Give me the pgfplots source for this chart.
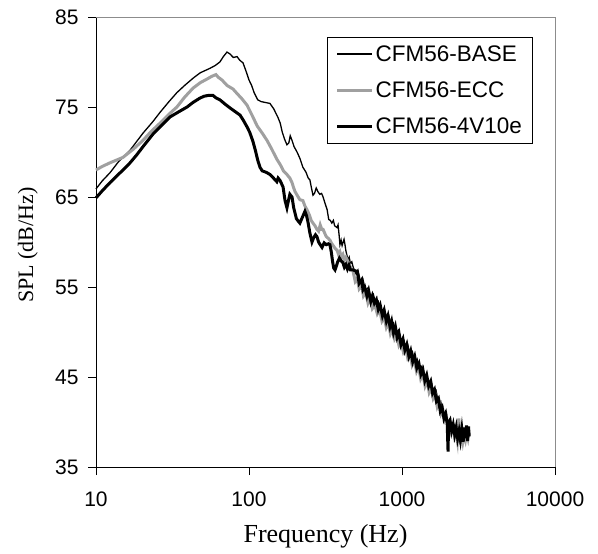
\documentclass[border=0pt]{standalone}
\usepackage{pgfplots}
\pgfplotsset{compat=1.18}
\usepackage{fontspec}
\setmainfont{Liberation Sans}
\newfontfamily\timesf{Liberation Serif}
\definecolor{ecc}{RGB}{160,160,160}
\definecolor{frame}{RGB}{140,140,140}
\begin{document}
\begin{tikzpicture}
\begin{axis}[
  xmode=log, width=459pt, height=450pt, scale only axis,
  xmin=10, xmax=10000, ymin=35, ymax=85,
  xtick={10,100,1000,10000}, xticklabels={10,100,1000,10000},
  ytick={35,45,55,65,75,85}, yticklabels={35,45,55,65,75,85},
  xminorticks=false, yminorticks=false,
  axis x line*=bottom, axis y line*=left,
  axis line style={-, black, line width=0.9pt},
  tick align=outside, major tick length=8pt,
  tick style={black, line width=0.9pt},
  ticklabel style={font=\fontsize{21}{25}\selectfont},
  xticklabel style={yshift=-13pt},
  yticklabel style={xshift=-6pt},
  clip=false,
  xlabel={Frequency (Hz)}, ylabel={SPL (dB/Hz)},
  xlabel style={font=\timesf\fontsize{26}{30}\selectfont, at={([yshift=-75pt]axis description cs:0.5,0)}, anchor=base},
  ylabel style={font=\timesf\fontsize{22}{26}\selectfont, at={([xshift=-63pt,yshift=-3pt]axis description cs:0,0.5)}, anchor=base, rotate=0},
  legend style={at={(0.952,0.9556)}, anchor=north east, draw=black, line width=0.9pt,
    font=\fontsize{22.5}{27}\selectfont, inner xsep=8.5pt, inner ysep=6pt, row sep=15pt},
  legend cell align=left,
  legend image code/.code={\draw[#1] (0pt,0pt) -- (35pt,0pt);},
]
\addplot[black, line width=1.3pt] coordinates {
(10,65.9)(11,66.8)(12.35,67.7)(14,68.9)(16.7,70.2)(20.3,72.1)(23.6,73.4)(26.2,74.4)(30,75.6)(33.8,76.6)(38,77.4)(43.1,78.2)(48,78.8)(55.6,79.3)(60,79.6)(64.5,80.0)(68,80.6)(71.8,81.1)(75,80.9)(79,80.5)(83.5,80.6)(87,80.2)(91.4,79.9)(96,78.9)(100,78.0)(104,77.4)(108,76.6)(114,75.8)(120,75.6)(128,75.5)(137,75.4)(145,74.8)(155,73.8)(160,73.2)(165,72.2)(171,71.4)(177,70.8)(182,71.0)(186,71.8)(191,71.3)(197,70.6)(206,70.0)(215,69.3)(225,68.3)(235,67.8)(244,67.1)(250,66.9)(256,66.0)(262,65.2)(268,65.4)(275,66.0)(282,65.6)(290,65.3)(298,65.4)(305,65.0)(314,64.3)(324,63.6)(332,62.5)(340,62.4)(348,62.1)(356,62.4)(363,61.8)(370,61.7)(376,61.6)(382,61.9)(388,60.8)(393,59.7)(400,60.2)(406,59.6)(411,59.9)(418,60.3)(424,59.7)(430,59.0)(437,58.5)(444,58.0)(452,58.3)(460,57.6)(470,57.8)
(478,57.3)(495,56.5)(515,56.9)(535,55.6)(555,55.9)(575,54.7)(600,54.9)(625,53.8)(650,54.2)(675,53.0)(700,53.4)(730,52.2)(760,52.6)(790,51.4)(820,51.8)(850,50.6)(880,51.0)(910,49.8)(945,50.2)(980,49.0)(1015,49.4)(1050,48.2)(1090,48.6)(1130,47.4)(1170,47.8)(1210,46.6)(1255,47.0)(1300,45.7)(1350,46.2)(1400,44.9)(1450,45.3)(1500,44.1)(1555,44.5)(1610,43.2)(1670,43.5)(1730,42.1)(1790,42.3)(1855,40.8)(1920,41.2)(1990,40.0)(2060,40.3)(2130,39.1)(2200,39.6)(2280,38.5)(2360,39.2)(2440,38.2)(2520,39.1)(2600,38.3)(2680,39.3)(2740,38.5)
};
\addlegendentry{CFM56-BASE}
\addplot[ecc, line width=3pt] coordinates {
(10,68.0)(11,68.4)(12.35,68.8)(15,69.4)(17.5,70.3)(20.3,71.3)(23,72.3)(26.2,73.2)(30,74.2)(33.8,75.0)(38,76.1)(43.1,77.1)(48,77.7)(53.1,78.1)(57,78.4)(60.8,78.6)(63,78.3)(66.6,78.0)(71.8,77.4)(78.6,77.0)(83.5,76.5)(90,75.9)(97.1,75.2)(106,73.9)(113,72.9)(122,72.1)(131,71.3)(141,70.3)(152,69.2)(160,68.6)(168,67.9)(177,67.5)(185,67.1)(191,66.6)(196,66.0)(200,65.6)(208,65.1)(215,64.7)(225,64.6)(232,64.0)(239,63.6)(248,63.0)(255,62.4)(262,62.1)(270,61.8)(278,61.4)(285,61.2)(292,61.9)(299,61.4)(305,61.4)(312,61.0)(320,60.6)(330,60.4)(338,60.2)(345,59.9)(355,59.6)(365,59.3)(376,59.1)(385,58.6)(393,58.9)(402,58.3)(411,58.6)(420,58.0)(430,58.3)(444,57.8)(460,57.2)
(478,56.8)(495,55.6)(510,55.9)(525,54.8)(545,55.2)(560,54.0)(580,54.4)(600,53.2)(620,53.7)(640,52.6)(665,53.0)(690,52.0)(715,52.4)(740,51.2)(765,51.6)(790,50.5)(815,51.0)(840,49.8)(865,50.3)(895,49.2)(925,49.6)(955,48.5)(985,48.9)(1020,47.8)(1055,48.3)(1090,47.1)(1130,47.5)(1165,46.3)(1205,46.8)(1245,45.6)(1285,46.1)(1325,44.8)(1370,45.3)(1415,44.0)(1460,44.6)(1505,43.3)(1550,43.8)(1600,42.6)(1650,43.0)(1700,41.7)(1750,42.2)(1800,40.9)(1850,41.3)(1900,40.2)(1950,40.6)(2000,39.5)(2050,39.9)(2100,38.9)(2150,39.4)(2200,38.4)(2250,38.9)(2300,37.9)(2350,40.4)(2400,38.3)(2450,38.8)(2500,37.8)(2550,38.6)(2600,38.0)(2650,38.8)(2700,38.2)(2740,38.9)
};
\addlegendentry{CFM56-ECC}
\addplot[black, line width=3pt] coordinates {
(10,64.9)(11,65.7)(12.35,66.6)(15,68.0)(16.7,68.8)(18.5,69.7)(20.3,70.6)(23.6,72.0)(27,73.0)(30.5,73.9)(35,74.5)(39.4,75.0)(43,75.5)(47.9,76.0)(51,76.2)(54.8,76.3)(58,76.3)(61,76.0)(64.5,75.8)(70,75.3)(75.1,74.9)(81,74.5)(87.4,74.1)(92,73.5)(97,72.8)(101,72.2)(106,71.2)(110,70.2)(114,69.1)(118,68.3)(122,67.9)(127,67.8)(131,67.7)(137,67.5)(143,67.2)(148,66.9)(152,66.7)(155,67.1)(160,66.8)(167,66.1)(172,64.6)(177,63.8)(181,64.6)(185,65.3)(191,65.0)(196,63.8)(200,63.2)(204,62.6)(208,62.4)(215,62.1)(224,62.8)(232,63.4)(238,62.9)(243,62.2)(250,61.0)(258,60.0)(265,60.5)(272,60.8)(278,60.6)(285,60.0)(292,59.7)(300,59.4)(310,59.9)(320,59.7)(330,59.8)(338,59.7)(345,58.9)(352,57.8)(358,57.1)(365,56.9)(372,57.3)(380,57.8)(390,58.2)(400,57.9)(411,57.7)(420,57.2)(430,57.5)(440,57.0)(450,57.4)(460,56.9)
(478,56.9)(495,56.8)(510,56.7)(525,55.4)(545,55.8)(556,54.7)(570,55.0)(590,54.0)(605,54.6)(625,53.4)(640,54.0)(660,53.2)(680,53.6)(700,52.5)(720,53.0)(745,51.8)(765,52.4)(790,51.2)(810,51.8)(835,50.6)(855,51.2)(880,49.9)(905,50.6)(930,49.4)(955,49.9)(985,48.6)(1015,49.2)(1045,48.0)(1075,48.6)(1110,47.3)(1140,47.9)(1175,46.7)(1210,47.3)(1250,46.0)(1290,46.5)(1330,45.3)(1370,45.8)(1410,44.6)(1450,45.2)(1495,44.0)(1540,44.5)(1585,43.2)(1630,43.6)(1680,42.3)(1730,42.6)(1780,41.2)(1830,41.6)(1880,40.4)(1930,40.9)(1975,39.8)(2000,36.7)(2015,39.9)(2060,40.2)(2110,39.0)(2160,39.7)(2210,38.6)(2260,39.4)(2310,38.2)(2360,39.0)(2410,38.0)(2460,39.2)(2510,37.8)(2560,39.4)(2600,38.2)(2640,39.6)(2680,37.9)(2720,39.5)(2750,38.4)
};
\addlegendentry{CFM56-4V10e}
\draw[frame, line width=0.9pt] (rel axis cs:0,1) -- (rel axis cs:1,1) -- (rel axis cs:1,0);
\coordinate (bl) at (rel axis cs:0,0);
\coordinate (tr) at (rel axis cs:1,1);
\end{axis}
\pgfresetboundingbox
\path ([shift={(-96pt,-86pt)}]bl) rectangle ([shift={(43pt,17pt)}]tr);
\end{tikzpicture}
\end{document}
